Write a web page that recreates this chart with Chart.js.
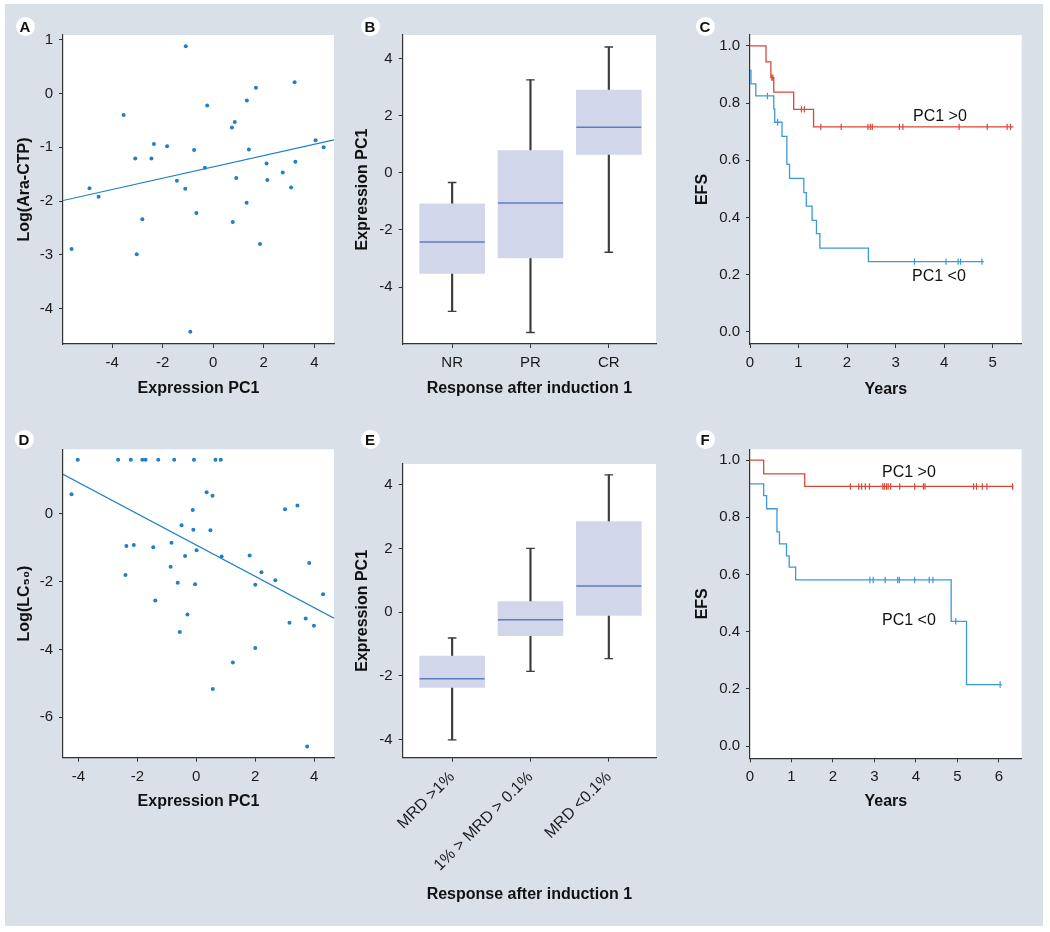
<!DOCTYPE html>
<html><head><meta charset="utf-8">
<script src="https://cdn.jsdelivr.net/npm/chart.js@4.4.1/dist/chart.umd.min.js"></script>
<style>
html,body{margin:0;padding:0;background:#fff;}
#fig{position:relative;width:1050px;height:932px;overflow:hidden;background:#fff;}
#bg{position:absolute;left:5px;top:4px;width:1038px;height:922px;background:#dae0e8;}
canvas{position:absolute;}
.lbl{position:absolute;font-family:"Liberation Sans",Arial,Helvetica,sans-serif;color:#111;}
.letter{width:19px;height:19px;border-radius:50%;background:#fff;font-weight:bold;font-size:15px;line-height:19px;text-align:center;}
.curve{font-size:16px;line-height:18px;white-space:nowrap;}
</style></head><body>
<div id="fig">
<div id="bg"></div>
<canvas id="cA" width="345" height="430" style="left:0px;top:0px"></canvas>
<canvas id="cB" width="345" height="430" style="left:345px;top:0px"></canvas>
<canvas id="cC" width="360" height="430" style="left:690px;top:0px"></canvas>
<canvas id="cD" width="345" height="420" style="left:0px;top:430px"></canvas>
<canvas id="cE" width="345" height="502" style="left:345px;top:430px"></canvas>
<canvas id="cF" width="360" height="420" style="left:690px;top:430px"></canvas>
<div class="lbl letter" style="left:15.5px;top:16.5px">A</div>
<div class="lbl letter" style="left:360.5px;top:16.5px">B</div>
<div class="lbl letter" style="left:695.5px;top:16.5px">C</div>
<div class="lbl letter" style="left:14.5px;top:429.5px">D</div>
<div class="lbl letter" style="left:360.5px;top:429.5px">E</div>
<div class="lbl letter" style="left:695.5px;top:429.5px">F</div>
<div class="lbl curve" style="left:913px;top:107px">PC1 &gt;0</div>
<div class="lbl curve" style="left:912px;top:267px">PC1 &lt;0</div>
<div class="lbl curve" style="left:882px;top:463px">PC1 &gt;0</div>
<div class="lbl curve" style="left:882px;top:611px">PC1 &lt;0</div>
</div>
<script>
// ---------- Panel A : Log(Ara-CTP) vs Expression PC1 ----------
const A_x = [-1.09,-3.55,-0.24,1.33,1.69,3.22,0.74,0.85,-2.35,-1.83,-3.09,-2.45,-0.76,1.41,4.05,4.37,-0.33,-1.44,2.11,3.25,2.75,0.91,2.14,-1.11,3.08,-4.90,-4.54,1.32,-0.67,-2.81,0.77,-5.61,-3.03,1.85,-0.91];
const A_y = [0.88,-0.40,-0.22,-0.13,0.11,0.21,-0.63,-0.53,-0.94,-0.98,-1.21,-1.21,-1.05,-1.04,-0.87,-1.00,-1.38,-1.62,-1.30,-1.27,-1.47,-1.57,-1.61,-1.77,-1.75,-1.76,-1.92,-2.03,-2.22,-2.34,-2.39,-2.89,-2.99,-2.80,-4.43];
const A_fitX = [-5.95, 4.78];
const A_fitY = [-1.99, -0.86];
const A_xTicks = [-4,-2,0,2,4];
const A_yTicks = [1,0,-1,-2,-3,-4];

// ---------- Panel D : Log(LC50) vs Expression PC1 ----------
const D_x = [-4.02,-2.65,-2.22,-1.83,-1.72,-1.29,-0.75,-0.08,0.65,0.83,
  -4.23,0.35,0.55,-0.12,3.01,3.43,-0.50,-0.10,0.48,-2.37,-2.12,-1.46,-0.84,0.01,-0.38,0.86,1.81,-0.87,3.83,2.21,
  -2.40,2.68,-0.63,-0.04,2.00,4.30,-1.39,-0.30,3.16,3.71,3.99,-0.56,2.00,1.24,0.56,3.76];
const D_y = [1.60,1.60,1.60,1.60,1.60,1.60,1.60,1.60,1.60,1.60,
  0.58,0.64,0.54,0.12,0.14,0.25,-0.33,-0.47,-0.48,-0.95,-0.92,-0.98,-0.85,-1.07,-1.24,-1.26,-1.23,-1.56,-1.45,-1.72,
  -1.80,-1.96,-2.03,-2.08,-2.09,-2.37,-2.56,-2.97,-3.21,-3.09,-3.30,-3.49,-3.96,-4.39,-5.17,-6.87];
const D_fitX = [-4.52, 4.67];
const D_fitY = [1.17, -3.08];
const D_xTicks = [-4,-2,0,2,4];
const D_yTicks = [0,-2,-4,-6];

// ---------- Panel B : box plot by response ----------
const B_cats = ['NR','PR','CR'];
const B_min = [-4.85,-5.59,-2.78];
const B_q1  = [-3.52,-2.98,0.64];
const B_med = [-2.42,-1.06,1.59];
const B_q3  = [-1.09,0.78,2.89];
const B_max = [-0.34,3.25,4.40];
const B_yTicks = [4,2,0,-2,-4];

// ---------- Panel E : box plot by MRD ----------
const E_cats = ['MRD >1%','1% > MRD > 0.1%','MRD <0.1%'];
const E_min = [-4.01,-1.86,-1.46];
const E_q1  = [-2.36,-0.74,-0.10];
const E_med = [-2.09,-0.24,0.82];
const E_q3  = [-1.38,0.33,2.84];
const E_max = [-0.81,2.00,4.31];
const E_yTicks = [4,2,0,-2,-4];

// ---------- Panel C : EFS (Kaplan-Meier) ----------
const C_hiT = [0,0.33,0.43,0.49,0.90,1.31,5.43];
const C_hiS = [1.0,0.944,0.889,0.838,0.778,0.717,0.717];
const C_hiCensT = [0.45,0.47,1.06,1.12,1.46,1.88,2.43,2.48,2.52,3.08,3.15,4.31,4.89,5.30,5.37];
const C_hiCensS = [0.889,0.889,0.778,0.778,0.717,0.717,0.717,0.717,0.717,0.717,0.717,0.717,0.717,0.717,0.717];
const C_loT = [0,0.02,0.12,0.49,0.51,0.66,0.76,0.815,1.11,1.16,1.28,1.37,1.44,2.44,4.82];
const C_loS = [0.914,0.867,0.825,0.779,0.733,0.684,0.586,0.537,0.487,0.44,0.39,0.344,0.293,0.246,0.246];
const C_loCensT = [0.36,0.57,3.39,4.04,4.29,4.34,4.78];
const C_loCensS = [0.825,0.733,0.246,0.246,0.246,0.246,0.246];
const C_xTicks = [0,1,2,3,4,5];
const C_yTicks = [0,0.2,0.4,0.6,0.8,1.0];

// ---------- Panel F : EFS (Kaplan-Meier) ----------
const F_hiT = [0,0.33,1.32,6.35];
const F_hiS = [1.0,0.952,0.908,0.908];
const F_hiCensT = [2.42,2.62,2.69,2.78,2.88,3.20,3.24,3.29,3.33,3.39,3.61,3.97,4.18,4.22,5.39,5.46,5.60,5.71,6.33];
const F_hiCensS = F_hiCensT.map(() => 0.908);
const F_loT = [0,0.33,0.40,0.65,0.71,0.88,0.945,1.10,4.85,5.22,6.07];
const F_loS = [0.917,0.876,0.830,0.749,0.707,0.665,0.626,0.581,0.436,0.215,0.215];
const F_loCensT = [2.89,2.97,3.26,3.56,3.60,3.97,4.32,4.41,4.96,6.03];
const F_loCensS = [0.581,0.581,0.581,0.581,0.581,0.581,0.581,0.581,0.436,0.215];
const F_xTicks = [0,1,2,3,4,5,6];
const F_yTicks = [0,0.2,0.4,0.6,0.8,1.0];

// ---------- styling ----------
const DOT = '#1f7fc8';
const KM_BLUE = '#3a98db';
const KM_RED = '#dc4636';
const BOX = '#d1d6ea';
const MED = '#5a7dc4';
const WHISK = '#3c3c3c';
const AXIS = '#333333';

Chart.defaults.font.family = '"Liberation Sans", Arial, Helvetica, sans-serif';
Chart.defaults.color = '#1a1a1a';

const whiteArea = {
  id: 'whiteArea',
  beforeDraw(chart) {
    const {ctx, chartArea: a} = chart;
    ctx.save();
    ctx.fillStyle = '#ffffff';
    ctx.fillRect(a.left, a.top, a.right - a.left, a.bottom - a.top);
    ctx.restore();
  }
};

const pts = (xs, ys) => xs.map((x, i) => ({x: x, y: ys[i]}));

function axis(o) {
  return {
    type: 'linear', min: o.min, max: o.max, offset: false,
    afterBuildTicks: sc => { sc.ticks = o.ticks.map(v => ({value: v})); },
    afterFit: sc => { if (o.horizontal) sc.height = o.size; else sc.width = o.size; },
    ticks: {
      font: {size: o.fontSize || 15}, color: '#1a1a1a', padding: 6, autoSkip: false,
      maxRotation: o.rot || 0, minRotation: o.rot || 0,
      callback: o.fmt || (v => String(v))
    },
    grid: {drawOnChartArea: false, drawTicks: true, tickLength: 4, color: AXIS, lineWidth: 1, offset: false},
    border: {display: true, color: AXIS, width: 1.2},
    title: {
      display: true, text: o.title, color: '#111', font: {size: 16, weight: 'bold'},
      padding: o.horizontal ? {top: 0, bottom: o.titlePad} : {top: o.titlePad, bottom: 0}
    }
  };
}

function makeChart(id, datasets, xS, yS, pad) {
  return new Chart(document.getElementById(id), {
    type: 'scatter',
    data: {datasets: datasets},
    options: {
      responsive: false, animation: false, events: [],
      layout: {padding: pad},
      plugins: {legend: {display: false}, tooltip: {enabled: false}},
      scales: {x: xS, y: yS}
    },
    plugins: [whiteArea]
  });
}

function scatterSets(xs, ys, fx, fy) {
  return [
    {data: pts(xs, ys), pointRadius: 2, pointBackgroundColor: DOT, pointBorderWidth: 0, order: 0},
    {data: pts(fx, fy), showLine: true, pointRadius: 0, borderColor: DOT, borderWidth: 1.2, order: 1}
  ];
}

function boxSets(mins, q1, med, q3, maxs) {
  const xs = mins.map((_, i) => i + 1);
  return [
    {type: 'scatter', data: pts(xs, med), pointStyle: 'line', pointRadius: 32.5, pointBorderColor: MED, pointBorderWidth: 1.5, order: 0},
    {type: 'scatter', data: pts(xs, maxs).concat(pts(xs, mins)), pointStyle: 'line', pointRadius: 4.3, pointBorderColor: WHISK, pointBorderWidth: 1.4, order: 1},
    {type: 'bar', data: xs.map((x, i) => ({x: x, y: [q1[i], q3[i]]})), backgroundColor: BOX, borderWidth: 0, barThickness: 65, grouped: false, order: 2},
    {type: 'bar', data: xs.map((x, i) => ({x: x, y: [mins[i], maxs[i]]})), backgroundColor: WHISK, borderWidth: 0, barThickness: 1.5, grouped: false, order: 3}
  ];
}

function kmSets(t, s, ct, cs, col) {
  return [
    {data: pts(t, s), showLine: true, stepped: 'before', pointRadius: 0, borderColor: col, borderWidth: 1.3, order: 1},
    {data: pts(ct, cs), pointStyle: 'line', pointRotation: 90, pointRadius: 3.2, pointBorderColor: col, pointBorderWidth: 1.2, order: 0}
  ];
}

// Panel A
makeChart('cA', scatterSets(A_x, A_y, A_fitX, A_fitY),
  axis({horizontal: true, min: -5.95, max: 4.78, ticks: A_xTicks, size: 86, title: 'Expression PC1', titlePad: 31.4}),
  axis({min: -4.66, max: 1.09, ticks: A_yTicks, size: 63, title: 'Log(Ara-CTP)', titlePad: 15.4}),
  {left: 0, top: 35, right: 11, bottom: 0});

// Panel D
makeChart('cD', scatterSets(D_x, D_y, D_fitX, D_fitY),
  axis({horizontal: true, min: -4.52, max: 4.67, ticks: D_xTicks, size: 92.3, title: 'Expression PC1', titlePad: 38.7}),
  axis({min: -7.20, max: 1.91, ticks: D_yTicks, size: 63, title: 'Log(LC\u2085\u2080)', titlePad: 15.4}),
  {left: 0, top: 19.3, right: 11, bottom: 0});

// Panel B
makeChart('cB', boxSets(B_min, B_q1, B_med, B_q3, B_max),
  axis({horizontal: true, min: 0.369, max: 3.602, ticks: [1,2,3], size: 86, title: 'Response after induction 1', titlePad: 31.4,
        fmt: v => B_cats[v - 1]}),
  axis({min: -5.99, max: 4.82, ticks: B_yTicks, size: 57.7, title: 'Expression PC1', titlePad: 8.4}),
  {left: 0, top: 35, right: 15.7, bottom: 0});

// Panel E
makeChart('cE', boxSets(E_min, E_q1, E_med, E_q3, E_max),
  axis({horizontal: true, min: 0.369, max: 3.602, ticks: [1,2,3], size: 174.3, title: 'Response after induction 1', titlePad: 27.4,
        fmt: v => E_cats[v - 1], rot: 45, fontSize: 16}),
  axis({min: -4.57, max: 4.65, ticks: E_yTicks, size: 57.7, title: 'Expression PC1', titlePad: 8.4}),
  {left: 0, top: 20, right: 15.7, bottom: 0});

// Panel C
makeChart('cC', kmSets(C_hiT, C_hiS, C_hiCensT, C_hiCensS, KM_RED).concat(kmSets(C_loT, C_loS, C_loCensT, C_loCensS, KM_BLUE)),
  axis({horizontal: true, min: 0, max: 5.6, ticks: C_xTicks, size: 86, title: 'Years', titlePad: 31.1}),
  axis({min: -0.042, max: 1.038, ticks: C_yTicks, size: 60, title: 'EFS', titlePad: 2.6, fmt: v => v.toFixed(1)}),
  {left: 0, top: 35, right: 28.3, bottom: 0});

// Panel F
makeChart('cF', kmSets(F_hiT, F_hiS, F_hiCensT, F_hiCensS, KM_RED).concat(kmSets(F_loT, F_loS, F_loCensT, F_loCensS, KM_BLUE)),
  axis({horizontal: true, min: 0, max: 6.55, ticks: F_xTicks, size: 91.7, title: 'Years', titlePad: 38.7}),
  axis({min: -0.043, max: 1.038, ticks: F_yTicks, size: 60, title: 'EFS', titlePad: 2.6, fmt: v => v.toFixed(1)}),
  {left: 0, top: 19.3, right: 28.3, bottom: 0});
</script>
</body></html>
